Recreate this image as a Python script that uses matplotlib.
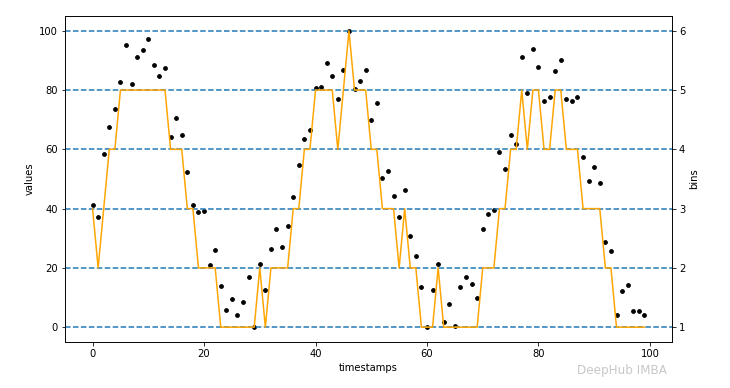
import numpy as np
import matplotlib.pyplot as plt


# 每个时间点的取值
timestamps = list(range(100))
values = [
    41.3, 37.3, 58.3, 67.7, 73.6, 82.7, 95.3, 82.2, 91.1, 93.6,
    97.2, 88.4, 84.7, 87.5, 64.0, 70.5, 64.9, 52.3, 41.3, 38.9,
    39.2, 21.1, 25.9, 13.9, 5.7, 9.5, 4.1, 8.4, 17.0, 0.0,
    21.2, 12.6, 26.4, 33.2, 27.1, 34.0, 43.8, 54.7, 63.6, 66.6,
    80.6, 81.0, 89.1, 84.6, 76.9, 86.7, 100.0, 80.3, 83.0, 86.7,
    69.8, 75.8, 50.2, 52.7, 44.1, 37.3, 46.3, 30.7, 23.9, 13.4,
    0.0, 12.6, 21.4, 1.6, 7.7, 0.3, 13.4, 17.0, 14.6, 9.8,
    33.2, 38.1, 39.4, 59.1, 53.5, 64.8, 61.9, 91.1, 79.1, 93.9,
    87.8, 76.2, 77.8, 86.6, 90.0, 77.0, 76.2, 77.8, 57.5, 49.4,
    53.9, 48.6, 28.8, 25.6, 4.1, 12.2, 14.2, 5.3, 5.3, 4.1,
]

# 分箱结果（右轴）
bins = [
    3, 2, 3, 4, 4, 5, 5, 5, 5, 5,
    5, 5, 5, 5, 4, 4, 4, 3, 3, 2,
    2, 2, 2, 1, 1, 1, 1, 1, 1, 1,
    2, 1, 2, 2, 2, 2, 3, 3, 4, 4,
    5, 5, 5, 5, 4, 5, 6, 5, 5, 5,
    4, 4, 3, 3, 3, 2, 3, 2, 2, 1,
    1, 1, 2, 1, 1, 1, 1, 1, 1, 1,
    2, 2, 2, 3, 3, 4, 4, 5, 4, 5,
    5, 4, 4, 5, 5, 4, 4, 4, 3, 3,
    3, 3, 2, 2, 1, 1, 1, 1, 1, 1,
]

bin_levels = [1, 2, 3, 4, 5, 6]


fig = plt.figure(figsize=(730 / 72, 388 / 72), dpi=72)
ax = fig.add_axes([0.089, 0.1186, 0.8315, 0.8402])

ax.scatter(timestamps, values, s=14, color="black", zorder=3)
ax.set_xlabel("timestamps")
ax.set_ylabel("values")
ax.set_ylim(-5, 105)
ax.set_xlim(-4.95, 103.95)

ax2 = ax.twinx()
for level in bin_levels:
    ax2.axhline(level, linestyle="--", color="C0", linewidth=1.5)
ax2.plot(timestamps, bins, color="orange", linewidth=1.5)
ax2.set_ylabel("bins")
ax2.set_ylim(0.75, 6.25)
ax2.set_yticks(bin_levels)

# 右下角水印（放在刻度标签下方，避免重叠）
fig.text(0.79, 0.035, "DeepHub IMBA", color="#c8c8c8", fontsize=12)

plt.savefig("out.png", dpi=72)
plt.close()
